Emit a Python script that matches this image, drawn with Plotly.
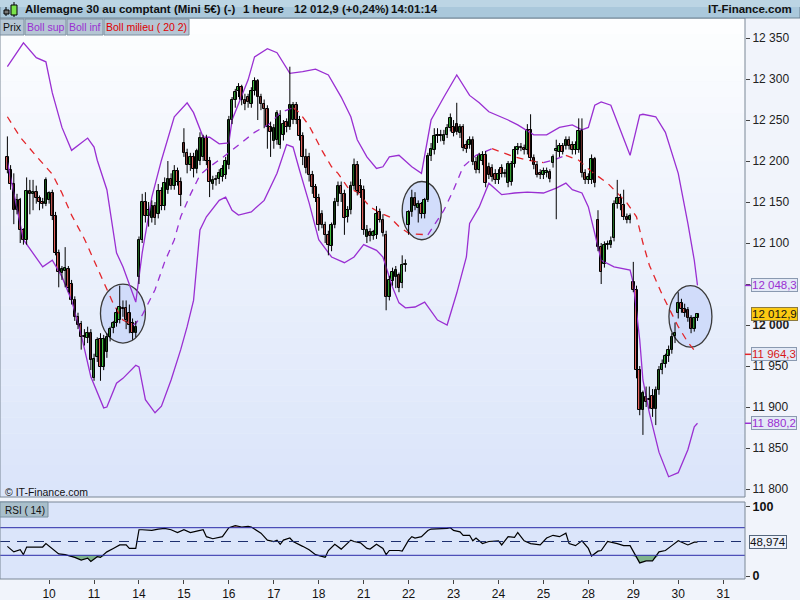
import plotly.graph_objects as go

# === DONNEES : Allemagne 30 (Mini 5€), barres 1 heure ===
day_labels = ['9', '10', '11', '14', '15', '16', '17', '18', '21', '22', '23', '24', '25', '28', '29', '30']
bars_per_day = [13] + [14] * 14 + [7]
axis_days = ['10', '11', '14', '15', '16', '17', '18', '21', '22', '23', '24', '25', '28', '29', '30', '31']

opens = [
    12205, 12189, 12172, 12140, 12152, 12116, 12104, 12163, 12160, 12162, 12155, 12150, 12148,
    12152, 12161, 12133, 12088, 12063, 12066, 12068, 12050, 12030, 12010, 12001, 11985, 11984, 11990,
    11936, 11961, 11983, 11949, 11967, 11985, 11996, 12003, 12006, 12021, 12021, 12015, 12003, 11990,
    12058, 12104, 12150, 12133, 12130, 12145, 12136, 12163, 12145, 12165, 12178, 12170, 12188, 12175,
    12222, 12210, 12195, 12205, 12190, 12200, 12205, 12228, 12200, 12172, 12177, 12178, 12180, 12183,
    12195, 12250, 12274, 12285, 12290, 12275, 12278, 12270, 12285, 12298, 12278, 12270, 12263, 12241,
    12225, 12226, 12220, 12232, 12248, 12241, 12250, 12268, 12250, 12230, 12205, 12205, 12183, 12168,
    12155, 12135, 12122, 12110, 12096, 12122, 12150, 12170, 12160, 12132, 12140, 12170, 12195, 12169,
    12165, 12107, 12113, 12109, 12110, 12138, 12128, 12110, 12034, 12054, 12058, 12061, 12051, 12073,
    12122, 12138, 12155, 12143, 12148, 12135, 12152, 12206, 12213, 12230, 12231, 12225, 12232, 12240,
    12241, 12245, 12234, 12241, 12220, 12220, 12226, 12199, 12189, 12200, 12207, 12193, 12192, 12184,
    12177, 12192, 12184, 12173, 12175, 12196, 12213, 12217, 12216, 12213, 12238, 12204, 12195, 12186,
    12183, 12185, 12187, 12198, 12212, 12211, 12218, 12218, 12226, 12220, 12213, 12213, 12237, 12185,
    12177, 12177, 12202, 12128, 12095, 12075, 12098, 12097, 12106, 12148, 12155, 12146, 12132, 12128,
    12052, 12043, 11945, 11896, 11912, 11908, 11913, 11898, 11921, 11945, 11953, 11962, 11970, 11987,
    12015, 12027, 12020, 12018, 12008, 11995, 12008,
]
highs = [
    12230, 12195, 12185, 12160, 12155, 12118, 12180, 12177, 12177, 12170, 12158, 12155, 12180,
    12163, 12165, 12138, 12092, 12072, 12095, 12072, 12055, 12035, 12015, 12005, 11995, 11998, 11995,
    11965, 11985, 11990, 11988, 11990, 11998, 12005, 12020, 12048, 12030, 12030, 12025, 12008, 12005,
    12108, 12160, 12162, 12150, 12152, 12150, 12172, 12168, 12180, 12200, 12185, 12195, 12192, 12180,
    12240, 12215, 12210, 12210, 12215, 12235, 12232, 12232, 12205, 12182, 12183, 12190, 12195, 12205,
    12255, 12278, 12288, 12295, 12293, 12282, 12282, 12290, 12302, 12300, 12282, 12275, 12268, 12248,
    12245, 12262, 12262, 12250, 12252, 12315, 12272, 12272, 12255, 12235, 12215, 12210, 12188, 12172,
    12160, 12140, 12126, 12115, 12125, 12155, 12175, 12175, 12165, 12145, 12175, 12203, 12200, 12178,
    12170, 12122, 12118, 12116, 12145, 12142, 12135, 12115, 12060, 12070, 12072, 12064, 12085, 12080,
    12140, 12165, 12162, 12152, 12150, 12155, 12210, 12222, 12240, 12240, 12238, 12238, 12245, 12258,
    12250, 12271, 12245, 12245, 12225, 12230, 12230, 12205, 12210, 12212, 12212, 12198, 12196, 12190,
    12190, 12196, 12190, 12200, 12200, 12218, 12222, 12222, 12220, 12245, 12257, 12208, 12200, 12190,
    12192, 12192, 12190, 12208, 12226, 12222, 12222, 12230, 12230, 12224, 12224, 12252, 12252, 12190,
    12185, 12208, 12205, 12140, 12100, 12102, 12103, 12108, 12152, 12177, 12160, 12165, 12136, 12136,
    12077, 12048, 11950, 11920, 11925, 11925, 11922, 11925, 11950, 11958, 11965, 11975, 11990, 12003,
    12040, 12032, 12026, 12022, 12012, 12010, 12014,
]
lows = [
    12185, 12165, 12123, 12135, 12100, 12098, 12098, 12135, 12140, 12148, 12140, 12142, 12145,
    12148, 12128, 12085, 12046, 12055, 12046, 12040, 12025, 12005, 11995, 11970, 11975, 11978, 11945,
    11932, 11955, 11932, 11945, 11960, 11980, 11990, 11998, 12002, 12010, 11995, 11990, 11982, 11985,
    12050, 12100, 12125, 12120, 12125, 12122, 12130, 12140, 12140, 12160, 12165, 12165, 12170, 12145,
    12205, 12185, 12188, 12180, 12185, 12195, 12200, 12195, 12156, 12165, 12170, 12172, 12175, 12178,
    12190, 12245, 12265, 12278, 12268, 12262, 12265, 12265, 12280, 12250, 12262, 12240, 12215, 12205,
    12215, 12220, 12215, 12225, 12235, 12238, 12245, 12245, 12225, 12195, 12185, 12175, 12160, 12150,
    12115, 12118, 12100, 12085, 12090, 12118, 12145, 12150, 12110, 12125, 12135, 12165, 12158, 12155,
    12110, 12100, 12102, 12104, 12105, 12125, 12108, 12018, 12030, 12048, 12045, 12040, 12045, 12065,
    12110, 12132, 12140, 12125, 12130, 12130, 12150, 12200, 12208, 12222, 12224, 12220, 12228, 12236,
    12230, 12232, 12228, 12212, 12210, 12215, 12195, 12185, 12185, 12195, 12168, 12178, 12175, 12172,
    12172, 12180, 12180, 12168, 12170, 12192, 12208, 12212, 12208, 12208, 12200, 12190, 12180, 12178,
    12178, 12180, 12174, 12192, 12129, 12205, 12208, 12214, 12214, 12208, 12208, 12210, 12180, 12172,
    12172, 12172, 12168, 12090, 12050, 12070, 12092, 12094, 12102, 12142, 12140, 12128, 12124, 12124,
    12040, 11935, 11890, 11866, 11900, 11898, 11888, 11878, 11915, 11940, 11948, 11955, 11965, 11978,
    12008, 12015, 12010, 12004, 11990, 11992, 12005,
]
closes = [
    12189, 12172, 12140, 12152, 12116, 12104, 12163, 12160, 12162, 12155, 12150, 12148, 12177,
    12161, 12133, 12088, 12065, 12068, 12070, 12045, 12030, 12010, 12000, 11985, 11986, 11990, 11957,
    11959, 11982, 11949, 11983, 11985, 11995, 12002, 12015, 12022, 12019, 12006, 12000, 11990, 11998,
    12104, 12150, 12133, 12140, 12145, 12130, 12163, 12145, 12173, 12178, 12170, 12188, 12175, 12158,
    12210, 12195, 12205, 12190, 12212, 12228, 12228, 12200, 12175, 12177, 12178, 12185, 12190, 12200,
    12250, 12274, 12284, 12290, 12275, 12270, 12272, 12285, 12298, 12278, 12270, 12263, 12241, 12235,
    12240, 12258, 12255, 12245, 12241, 12268, 12268, 12250, 12230, 12205, 12192, 12183, 12168, 12155,
    12122, 12122, 12110, 12097, 12122, 12150, 12170, 12160, 12130, 12140, 12170, 12195, 12163, 12161,
    12116, 12116, 12109, 12113, 12136, 12128, 12112, 12034, 12055, 12065, 12067, 12045, 12073, 12075,
    12138, 12155, 12145, 12148, 12135, 12152, 12206, 12215, 12230, 12231, 12230, 12232, 12240, 12252,
    12234, 12236, 12241, 12216, 12215, 12226, 12199, 12189, 12207, 12207, 12173, 12183, 12180, 12177,
    12184, 12184, 12185, 12196, 12196, 12213, 12217, 12216, 12213, 12238, 12204, 12195, 12183, 12183,
    12188, 12188, 12178, 12205, 12215, 12218, 12211, 12226, 12218, 12213, 12220, 12237, 12185, 12177,
    12180, 12202, 12173, 12095, 12065, 12098, 12099, 12103, 12148, 12155, 12148, 12132, 12128, 12133,
    12043, 11945, 11896, 11917, 11906, 11910, 11898, 11921, 11945, 11953, 11962, 11970, 11985, 11990,
    12027, 12020, 12015, 12008, 11995, 12008, 12012.9,
]

# Bandes de Bollinger (20, 2) : index de barre / valeur
upper_idx = [0, 2, 5, 9, 12, 14, 17, 20, 25, 27, 28, 31, 34, 36, 40, 42, 45, 48, 52, 56, 58, 61, 63, 66, 69,
             70, 75, 77, 81, 84, 88, 92, 96, 100, 104, 107, 109, 112, 115, 117, 119, 122, 126, 129, 132,
             136, 140, 144, 147, 150, 156, 159, 164, 168, 172, 176, 179, 181, 183, 185, 188, 194, 197, 198,
             202, 205, 209, 212, 214, 215]
upper_val = [12315, 12326, 12344, 12326, 12321, 12283, 12241, 12213, 12228, 12217, 12201, 12165, 12088, 12071,
             12028, 12088, 12156, 12201, 12254, 12271, 12259, 12229, 12229, 12221, 12222, 12250, 12299, 12327,
             12337, 12332, 12307, 12309, 12312, 12305, 12278, 12254, 12226, 12205, 12191, 12193, 12205, 12207,
             12193, 12185, 12250, 12278, 12305, 12280, 12271, 12260, 12250, 12244, 12232, 12232, 12241, 12244,
             12238, 12241, 12268, 12272, 12268, 12207, 12256, 12257, 12254, 12235, 12185, 12124, 12079, 12048.3]
lower_idx = [0, 5, 11, 14, 17, 20, 23, 26, 30, 31, 34, 36, 40, 41, 43, 46, 48, 51, 54, 56, 58, 60, 62, 66, 68,
             70, 72, 76, 80, 84, 87, 89, 91, 94, 97, 101, 105, 108, 111, 115, 117, 120, 122, 124, 127, 130,
             134, 137, 140, 143, 144, 147, 150, 154, 158, 162, 167, 171, 174, 176, 179, 181, 185, 189, 194,
             195, 197, 198, 200, 203, 206, 209, 212, 214, 215]
lower_val = [12199, 12104, 12071, 12079, 12059, 12030, 11988, 11937, 11899, 11900, 11929, 11935, 11951, 11949,
             11909, 11893, 11901, 11933, 11970, 11998, 12030, 12116, 12132, 12152, 12156, 12140, 12134, 12138,
             12152, 12185, 12220, 12217, 12189, 12149, 12104, 12083, 12076, 12083, 12098, 12091, 12083, 12046,
             12027, 12021, 12022, 12028, 12006, 12000, 12039, 12083, 12124, 12144, 12173, 12159, 12161, 12162,
             12161, 12167, 12173, 12165, 12161, 12144, 12079, 12071, 12067, 12051, 11982, 11933, 11893, 11845,
             11815, 11820, 11848, 11876, 11880.2]
mid_idx = [0, 4, 9, 14, 17, 20, 24, 27, 30, 33, 36, 39, 40, 42, 44, 46, 49, 52, 54, 57, 60, 63, 67, 70, 74,
           77, 82, 85, 89, 91, 94, 98, 101, 103, 106, 109, 113, 116, 119, 122, 125, 127, 131, 136, 139, 142,
           146, 151, 154, 158, 162, 167, 170, 174, 178, 182, 187, 193, 196, 198, 200, 204, 209, 212, 215]
mid_val = [12254, 12229, 12206, 12184, 12161, 12134, 12105, 12079, 12052, 12026, 12006, 12000, 12002, 12012,
           12027, 12043, 12077, 12104, 12132, 12159, 12183, 12193, 12204, 12213, 12226, 12235, 12246, 12259,
           12265, 12259, 12243, 12213, 12193, 12185, 12168, 12162, 12144, 12137, 12132, 12120, 12112, 12111,
           12110, 12140, 12165, 12193, 12207, 12215, 12211, 12205, 12201, 12198, 12201, 12207, 12201, 12187,
           12173, 12149, 12132, 12100, 12073, 12037, 11998, 11979, 11964.3]

# RSI (14)
rsi_idx = [0, 2, 4, 5, 6, 8, 11, 12, 14, 16, 18, 21, 23, 25, 26, 28, 29, 31, 33, 35, 37, 38, 40, 41, 42,
           45, 47, 49, 51, 53, 55, 57, 59, 61, 62, 64, 67, 69, 71, 73, 75, 76, 79, 81, 83, 84, 85, 86, 88,
           89, 92, 94, 96, 99, 100, 102, 104, 107, 108, 110, 112, 113, 115, 117, 118, 119, 122, 123, 125,
           126, 127, 129, 131, 132, 137, 138, 139, 141, 142, 144, 145, 146, 148, 150, 153, 154, 156, 158,
           159, 161, 163, 166, 168, 170, 172, 174, 175, 177, 179, 181, 182, 184, 185, 187, 190, 192, 194,
           196, 197, 199, 201, 203, 205, 207, 209, 212, 214, 215]
rsi_val = [43, 35, 38, 31, 42, 42, 42, 47, 40, 32, 31, 27, 23, 26, 21, 28, 27, 35, 40, 45, 45, 40, 40, 67, 67,
           66, 68, 69, 67, 63, 67, 63, 65, 67, 57, 54, 57, 70, 73, 71, 72, 71, 62, 52, 50, 52, 46, 52, 55,
           50, 43, 38, 31, 27, 37, 46, 39, 52, 50, 48, 40, 39, 46, 40, 31, 37, 37, 36, 52,
           57, 55, 57, 66, 68, 69, 70, 66, 64, 59, 59, 51, 55, 47, 50, 51, 45, 57, 56,
           63, 51, 47, 45, 55, 59, 57, 62, 47, 44, 51, 40, 29, 36, 37, 50, 47, 44, 44,
           27, 19, 22, 22, 35, 37, 44, 51, 45, 49, 48.974]

price_ticks = [11800, 11850, 11900, 11950, 12000, 12050, 12100, 12150, 12200, 12250, 12300, 12350]
price_tick_text = ['11 800', '11 850', '11 900', '11 950', '<b>12 000</b>', '12 050', '12 100', '12 150',
                   '12 200', '12 250', '12 300', '12 350']

assert len(opens) == len(highs) == len(lows) == len(closes) == sum(bars_per_day)

# === STYLE ===
PURPLE = '#9a2fd2'
RED = '#e3262b'
GREEN_C = '#3fc23f'
RED_C = '#e2645e'
FONT = 'Arial, Liberation Sans, sans-serif'
W_PLOT = 745          # largeur zone graphique (px)
H_PLOT = 561          # hauteur zone graphique (px)


def px_x(p):
    return p / W_PLOT


def px_y(p):
    return (579 - p) / H_PLOT


def fmt(v):
    return f"{v:,.1f}".replace(',', ' ').replace('.', ',')


bar_x = list(range(len(closes)))
day_start = [sum(bars_per_day[:k]) for k in range(1, len(bars_per_day))]
tick_x = day_start + [day_start[-1] + 14]

fig = go.Figure()

# bandes
fig.add_trace(go.Scatter(x=upper_idx, y=upper_val, mode='lines', line=dict(color=PURPLE, width=1.3),
                         hoverinfo='skip'))
fig.add_trace(go.Scatter(x=lower_idx, y=lower_val, mode='lines', line=dict(color=PURPLE, width=1.3),
                         hoverinfo='skip'))

# milieu : violet quand la moyenne monte, rouge quand elle baisse
segs = {True: ([], []), False: ([], [])}
for k in range(len(mid_idx) - 1):
    up = mid_val[k + 1] > mid_val[k]
    xs, ys = segs[up]
    if xs and xs[-1] == mid_idx[k]:
        xs.append(mid_idx[k + 1])
        ys.append(mid_val[k + 1])
    else:
        if xs:
            xs.append(None)
            ys.append(None)
        xs += [mid_idx[k], mid_idx[k + 1]]
        ys += [mid_val[k], mid_val[k + 1]]
for up, (xs, ys) in segs.items():
    fig.add_trace(go.Scatter(x=xs, y=ys, mode='lines', hoverinfo='skip',
                             line=dict(color=PURPLE if up else RED, width=1.3, dash='7px,6px')))

# bougies : mèches puis corps
wick_x, wick_y = [], []
for i in bar_x:
    wick_x += [i, i, None]
    wick_y += [lows[i], highs[i], None]
fig.add_trace(go.Scatter(x=wick_x, y=wick_y, mode='lines', line=dict(color='black', width=1), hoverinfo='skip'))
fig.add_trace(go.Bar(
    x=bar_x,
    y=[max(abs(c - o), 1.2) for o, c in zip(opens, closes)],
    base=[min(o, c) for o, c in zip(opens, closes)],
    width=0.78,
    marker=dict(color=[GREEN_C if c >= o else RED_C for o, c in zip(opens, closes)],
                line=dict(color='black', width=1)),
    hoverinfo='skip'))

# RSI : zones sous 30 / sur 70
rsi_lo = [min(v, 30) for v in rsi_val]
rsi_hi = [max(v, 70) for v in rsi_val]
fig.add_trace(go.Scatter(x=rsi_idx, y=[30] * len(rsi_idx), mode='lines', line=dict(width=0), yaxis='y2',
                         hoverinfo='skip'))
fig.add_trace(go.Scatter(x=rsi_idx, y=rsi_lo, mode='lines', line=dict(width=0), yaxis='y2', fill='tonexty',
                         fillcolor='rgba(110,170,120,0.85)', hoverinfo='skip'))
fig.add_trace(go.Scatter(x=rsi_idx, y=[70] * len(rsi_idx), mode='lines', line=dict(width=0), yaxis='y2',
                         hoverinfo='skip'))
fig.add_trace(go.Scatter(x=rsi_idx, y=rsi_hi, mode='lines', line=dict(width=0), yaxis='y2', fill='tonexty',
                         fillcolor='rgba(230,140,140,0.8)', hoverinfo='skip'))
fig.add_trace(go.Scatter(x=rsi_idx, y=rsi_val, mode='lines', line=dict(color='black', width=1.2), yaxis='y2',
                         hoverinfo='skip'))

shapes = []
# fond dégradé du panneau principal
N = 30
top_c, bot_c = (253, 254, 255), (219, 229, 250)
for k in range(N):
    t = k / (N - 1)
    c = tuple(int(top_c[j] + (bot_c[j] - top_c[j]) * t) for j in range(3))
    shapes.append(dict(type='rect', xref='paper', yref='paper', x0=0, x1=1,
                       y0=px_y(18 + (k + 1) * 479 / N), y1=px_y(18 + k * 479 / N),
                       fillcolor='rgb(%d,%d,%d)' % c, line=dict(width=0), layer='below'))
# fond RSI
shapes.append(dict(type='rect', xref='paper', yref='paper', x0=0, x1=1, y0=0, y1=px_y(502),
                   fillcolor='#dbe5fa', line=dict(width=0), layer='below'))
# ellipses dessinées
for x0, x1, y0, y1 in [(29.0, 43.0, 11978, 12050), (123.0, 135.2, 12104, 12175), (206.1, 219.5, 11973, 12048)]:
    shapes.append(dict(type='circle', xref='x', yref='y', x0=x0, x1=x1, y0=y0, y1=y1,
                       fillcolor='rgba(200,214,250,0.75)', line=dict(color='#3a3a3a', width=1.3), layer='below'))
# lignes RSI 70 / 30 / 50
for lv, dash, col in [(70, 'solid', '#2b2ba8'), (30, 'solid', '#2b2ba8'), (50, '10px,7px', '#1d2f6e')]:
    shapes.append(dict(type='line', xref='paper', yref='y2', x0=0, x1=1, y0=lv, y1=lv,
                       line=dict(color=col, width=1, dash=dash)))
# cadres
for yb, yt in [(497, 18), (579, 502)]:
    shapes.append(dict(type='rect', xref='paper', yref='paper', x0=0, x1=1, y0=px_y(yb), y1=px_y(yt),
                       line=dict(color='#7b8796', width=1)))
# bandeau titre
shapes.append(dict(type='rect', xref='paper', yref='paper', x0=0, x1=800 / W_PLOT, y0=px_y(18), y1=px_y(0),
                   fillcolor='#aac8db', line=dict(color='#6e8595', width=1)))
shapes.append(dict(type='rect', xref='paper', yref='paper', x0=0, x1=800 / W_PLOT, y0=px_y(7), y1=px_y(0),
                   fillcolor='#bcd5e4', line=dict(width=0)))
# icône bougies
shapes.append(dict(type='line', xref='paper', yref='paper', x0=px_x(6), x1=px_x(6), y0=px_y(16), y1=px_y(7),
                   line=dict(color='black', width=1)))
shapes.append(dict(type='rect', xref='paper', yref='paper', x0=px_x(4), x1=px_x(9), y0=px_y(14), y1=px_y(10),
                   fillcolor='#777777', line=dict(color='black', width=1)))
shapes.append(dict(type='line', xref='paper', yref='paper', x0=px_x(14), x1=px_x(14), y0=px_y(17), y1=px_y(2),
                   line=dict(color='black', width=1)))
shapes.append(dict(type='rect', xref='paper', yref='paper', x0=px_x(11), x1=px_x(17), y0=px_y(15), y1=px_y(5),
                   fillcolor='#7be34a', line=dict(color='black', width=1)))
# boutons légende
legend_boxes = [('Prix', 0, 24, '#111111'), ('Boll sup', 25, 66, PURPLE), ('Boll inf', 67, 103, PURPLE),
                ('Boll milieu ( 20 2)', 104, 189, '#e00000')]
for _, a, b, _c in legend_boxes:
    shapes.append(dict(type='rect', xref='paper', yref='paper', x0=px_x(a), x1=px_x(b), y0=px_y(35),
                       y1=px_y(19), fillcolor='#b5c6d4', line=dict(color='#7d90a0', width=1)))
shapes.append(dict(type='rect', xref='paper', yref='paper', x0=px_x(0), x1=px_x(48), y0=px_y(517),
                   y1=px_y(502), fillcolor='#a9bfcb', line=dict(color='#7890a0', width=1)))
# petits traits colorés des étiquettes de prix
for v, col in [(upper_val[-1], PURPLE), (mid_val[-1], RED), (lower_val[-1], PURPLE)]:
    shapes.append(dict(type='line', xref='paper', yref='y', x0=1, x1=1 + 7 / W_PLOT, y0=v, y1=v,
                       line=dict(color=col, width=1.5)))

ann = []
for txt, x in [('Allemagne 30 au comptant (Mini 5€) (-)', 23), ('1 heure', 241), ('12 012,9 (+0,24%)', 292),
               ('14:01:14', 389)]:
    ann.append(dict(text=txt, xref='paper', yref='paper', x=px_x(x), y=px_y(9), xanchor='left', yanchor='middle',
                    showarrow=False, font=dict(family=FONT, size=11.5, color='#111', weight='bold')))
ann.append(dict(text='IT-Finance.com', xref='paper', yref='paper', x=px_x(794), y=px_y(9), xanchor='right',
                yanchor='middle', showarrow=False, font=dict(family=FONT, size=11.5, color='#111', weight='bold')))
for txt, a, b, col in legend_boxes:
    ann.append(dict(text=txt, xref='paper', yref='paper', x=px_x((a + b) / 2), y=px_y(27), xanchor='center',
                    yanchor='middle', showarrow=False, font=dict(family=FONT, size=10.5, color=col)))
ann.append(dict(text='RSI ( 14)', xref='paper', yref='paper', x=px_x(3), y=px_y(510), xanchor='left',
                yanchor='middle', showarrow=False, font=dict(family=FONT, size=10, color='#111')))
ann.append(dict(text='© IT-Finance.com', xref='paper', yref='paper', x=px_x(3), y=px_y(492), xanchor='left',
                yanchor='middle', showarrow=False, font=dict(family=FONT, size=10.5, color='#111')))
# étiquettes de dernière valeur
for v, col, bg, bd in [(upper_val[-1], PURPLE, '#e3e9f6', '#8a99b0'),
                       (closes[-1], '#111', '#fcca12', '#8c7a40'),
                       (mid_val[-1], '#d81818', '#e3e9f6', '#8a99b0'),
                       (lower_val[-1], PURPLE, '#e3e9f6', '#8a99b0')]:
    ann.append(dict(text=fmt(v), xref='paper', yref='y', x=1, xshift=6, y=v, xanchor='left', yanchor='middle',
                    showarrow=False, bgcolor=bg, bordercolor=bd, borderwidth=1, borderpad=0,
                    font=dict(family=FONT, size=11.5, color=col)))
ann.append(dict(text=f"{rsi_val[-1]:.3f}".replace('.', ','), xref='paper', yref='y2', x=1, xshift=4,
                y=rsi_val[-1], xanchor='left', yanchor='middle', showarrow=False, bgcolor='#eef2fb',
                bordercolor='#55667c', borderwidth=1, borderpad=0, font=dict(family=FONT, size=11.5, color='#111')))

fig.update_layout(
    width=800, height=600,
    margin=dict(l=0, r=55, t=18, b=21),
    paper_bgcolor='#f1f4fb', plot_bgcolor='rgba(0,0,0,0)',
    font=dict(family=FONT, size=12, color='#222'),
    showlegend=False,
    bargap=0,
    xaxis=dict(domain=[0, 1], range=[-2.3, 229.8], anchor='y2', tickvals=tick_x, ticktext=axis_days,
               ticks='outside', ticklen=4, tickcolor='#444', showgrid=False, zeroline=False,
               tickfont=dict(size=12, color='#111')),
    yaxis=dict(domain=[px_y(497), 1], range=[11790.3, 12374.4], side='right', anchor='x',
               tickvals=price_ticks, ticktext=price_tick_text, ticks='outside', ticklen=4, tickcolor='#444',
               showgrid=False, zeroline=False, tickfont=dict(size=12, color='#222')),
    yaxis2=dict(domain=[0, px_y(502)], range=[-4.3, 107.2], side='right', anchor='x',
                tickvals=[0, 100], ticktext=['<b>0</b>', '<b>100</b>'], ticks='outside', ticklen=4,
                tickcolor='#444', showgrid=False, zeroline=False, tickfont=dict(size=12.5, color='#111')),
    shapes=shapes,
    annotations=ann,
)

fig.write_html("out.html", config={'displayModeBar': False},
               post_script="document.body.style.margin='0';document.body.style.overflow='hidden';")
